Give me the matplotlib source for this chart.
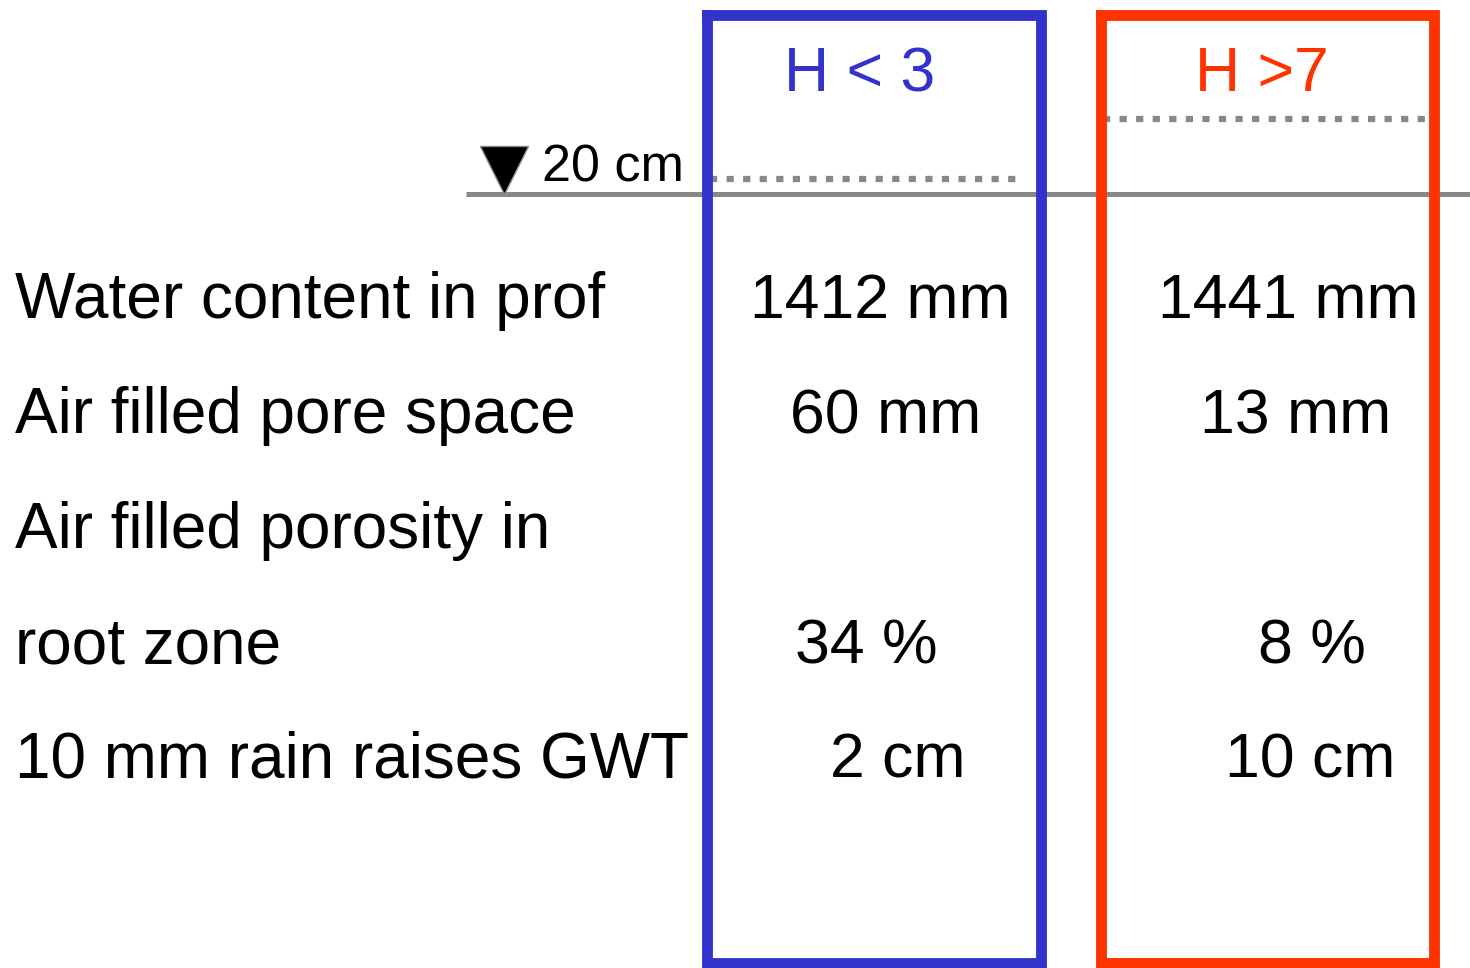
import matplotlib.pyplot as plt

plt.rcParams['font.family'] = ['Liberation Sans', 'DejaVu Sans']

# table content
row_labels = ["Water content in prof", "Air filled pore space", "Air filled porosity in",
              "root zone", "10 mm rain raises GWT"]
col_headers = ["H < 3", "H >7"]
blue_values = ["1412 mm", "60 mm", "", "34 %", "2 cm"]
red_values = ["1441 mm", "13 mm", "", "8 %", "10 cm"]
depth_label = "20 cm"

blue = "#3333CC"
red = "#FF3300"
grey = "#888888"

fig = plt.figure(figsize=(14.7, 9.68), dpi=100)
ax = fig.add_axes([0, 0, 1, 1])
ax.set_xlim(0, 1470)
ax.set_ylim(968, 0)
ax.axis("off")

# layout (pixel positions)
row_y = [318, 433, 548, 663, 778]
blue_x = [750, 790, 790, 795, 830]
red_x = [1158, 1200, 1200, 1258, 1225]
fs = 45

for y, lab in zip(row_y, row_labels):
    ax.text(15, y, lab, fontsize=46, va="baseline", ha="left")
for y, x, v in zip(row_y, blue_x, blue_values):
    ax.text(x, y, v, fontsize=fs, va="baseline", ha="left")
for y, x, v in zip(row_y, red_x, red_values):
    ax.text(x, y, v, fontsize=fs, va="baseline", ha="left")

# ground surface line
ax.plot([466, 1470], [194, 194], color=grey, lw=3.6, solid_capstyle="butt", zorder=1)

# water levels (dotted)
ax.plot([710, 1021], [179, 179], color=grey, lw=4.5, linestyle=(0, (1.15, 1.5)),
        dash_capstyle="butt", zorder=1)
ax.plot([1103, 1430], [119, 119], color=grey, lw=4.5, linestyle=(0, (1.15, 1.5)),
        dash_capstyle="butt", zorder=1)

# water table marker
ax.plot([504], [170], marker="v", markersize=34, color="black", mec=grey, mew=1, zorder=3)
ax.text(542, 182, depth_label, fontsize=37.5, va="baseline", ha="left")

# column boxes
ax.plot([707, 707, 1041, 1041, 707], [15, 963, 963, 15, 15], color=blue, lw=7.8,
        solid_joinstyle="miter", zorder=2)
ax.plot([1101, 1101, 1434, 1434, 1101], [15, 963, 963, 15, 15], color=red, lw=7.8,
        solid_joinstyle="miter", zorder=2)

ax.text(860, 91, col_headers[0], fontsize=fs, color=blue, va="baseline", ha="center")
ax.text(1262, 91, col_headers[1], fontsize=fs, color=red, va="baseline", ha="center")

fig.savefig("out.png", dpi=100, facecolor="white")
